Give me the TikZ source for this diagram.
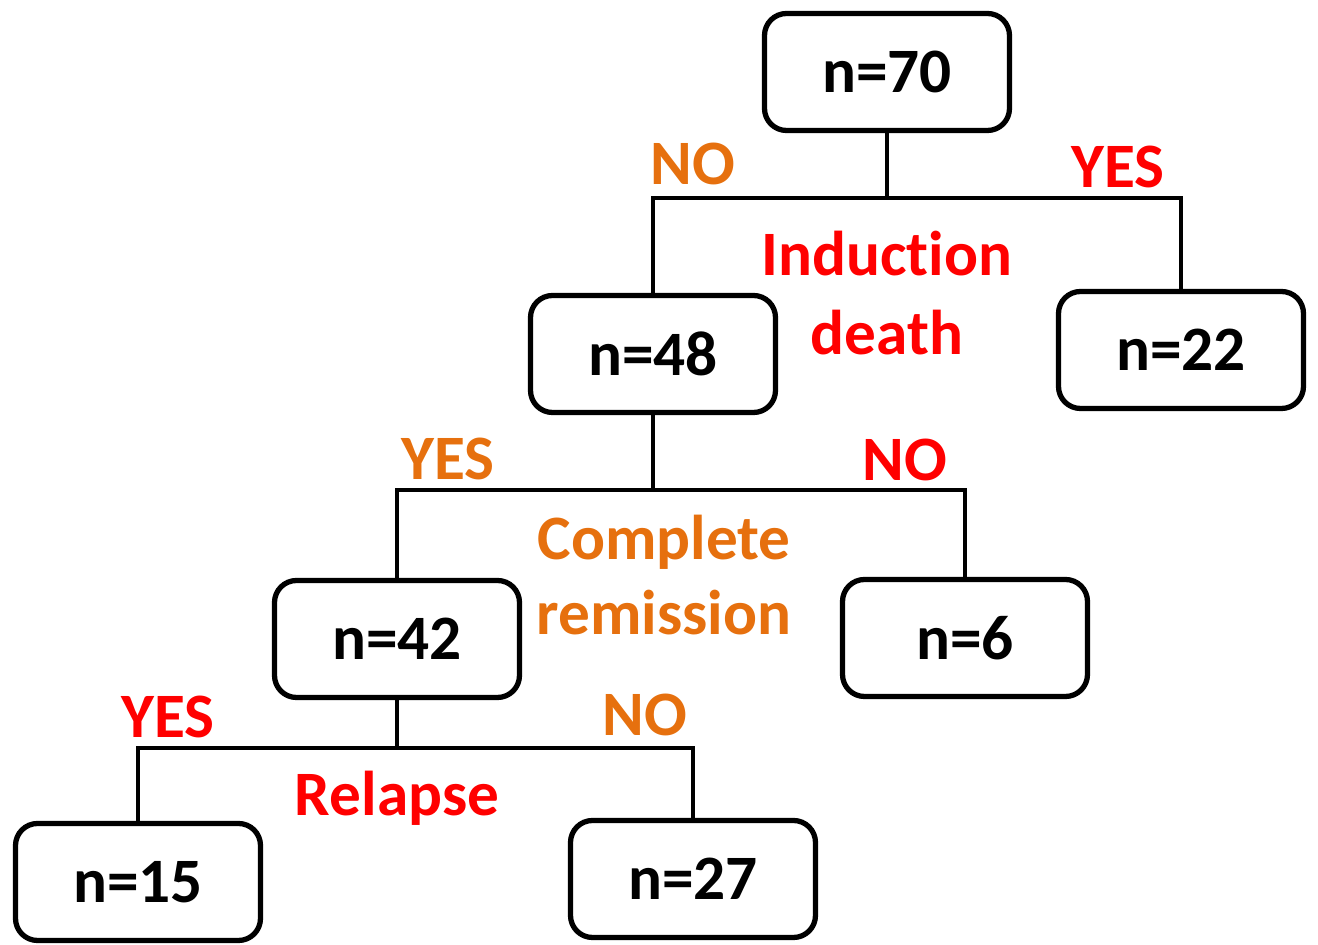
\documentclass[tikz,border=0pt]{standalone}
\usepackage{fontspec}
\setmainfont{Carlito}[Ligatures=NoCommon]
\usetikzlibrary{calc}
\definecolor{yesred}{RGB}{255,0,0}
\definecolor{noorange}{RGB}{230,112,14}

\begin{document}
\begin{tikzpicture}[x=1cm,y=-1cm,font=\fontsize{18}{21.5}\selectfont\bfseries,
  box/.style={draw,line width=1.5pt,rounded corners=0.22cm,minimum width=2.45cm,minimum height=1.17cm},
  conn/.style={line width=1.3pt},
  lab/.style={anchor=base,inner sep=0pt}]
  \useasboundingbox (0,0) rectangle (13.18,9.45);
  % boxes
  \node[box] (n70) at (8.87,0.72) {n=70};
  \node[box] (n48) at (6.53,3.54) {n=48};
  \node[box] (n22) at (11.81,3.50) {n=22};
  \node[box] (n42) at (3.97,6.39) {n=42};
  \node[box] (n6) at (9.65,6.38) {n=6};
  \node[box] (n15) at (1.38,8.82) {n=15};
  \node[box] (n27) at (6.93,8.79) {n=27};
  % splits
  \coordinate (s1) at (8.87,1.98);
  \coordinate (s2) at (6.53,4.90);
  \coordinate (s3) at (3.97,7.48);
  \draw[conn] (n70) -- (s1);
  \draw[conn] (n48.north) |- (s1) -| (n22.north);
  \draw[conn] (n48) -- (s2);
  \draw[conn] (n42.north) |- (s2) -| (n6.north);
  \draw[conn] (n42) -- (s3);
  \draw[conn] (n15.north) |- (s3) -| (n27.north);
  % labels
  \node[lab,noorange] (no1) at (6.93,1.85) {NO};
  \node[lab,yesred] (yes1) at (11.18,1.88) {YES};
  \node[lab,yesred,align=center] (q1) at (8.87,3.55) {Induction\\[1pt]death};
  \node[lab,noorange] (yes2) at (4.48,4.80) {YES};
  \node[lab,yesred] (no2) at (9.05,4.81) {NO};
  \node[lab,noorange,align=center] (q2) at (6.64,6.35) {Complete\\[0pt]remission};
  \node[lab,yesred] (yes3) at (1.68,7.38) {YES};
  \node[lab,noorange] (no3) at (6.45,7.36) {NO};
  \node[lab,yesred] (q3) at (3.97,8.16) {Relapse};
\end{tikzpicture}
\end{document}
